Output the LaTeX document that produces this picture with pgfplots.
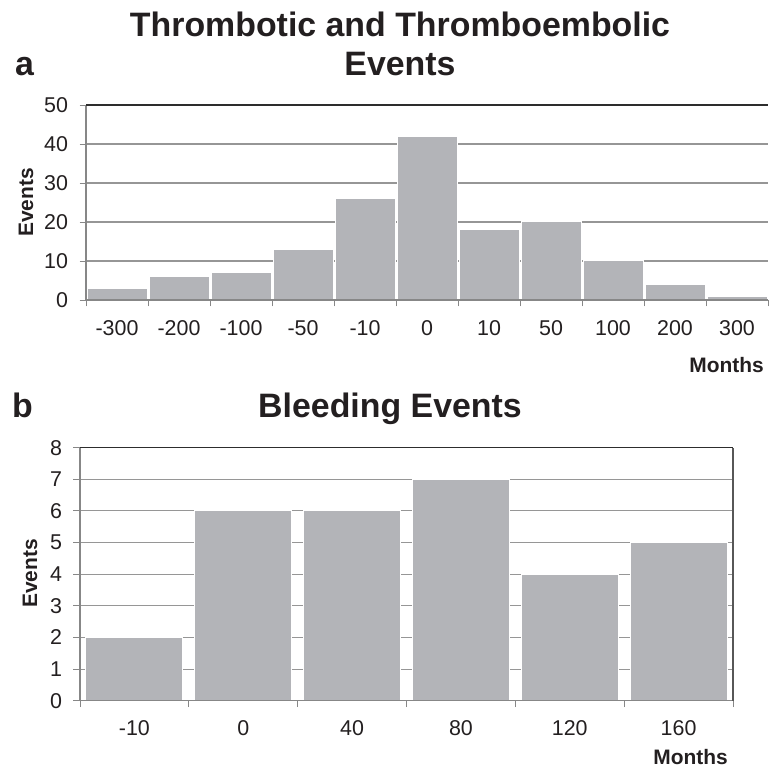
\documentclass[border=0pt]{standalone}
\usepackage{pgfplots}
\pgfplotsset{compat=1.18}
\usepackage{fontspec}
\setmainfont{Liberation Sans}
\definecolor{barc}{RGB}{179,180,184}
\definecolor{gridc}{RGB}{150,150,150}
\definecolor{axc}{RGB}{135,135,135}
\definecolor{darkc}{RGB}{45,45,45}
\definecolor{txt}{RGB}{35,31,32}
\pgfplotstableread{
x y
0 3
1 6
2 7
3 13
4 26
5 42
6 18
7 20
8 10
9 4
10 1
}\thromb
\pgfplotstableread{
x y
0 2
1 6
2 6
3 7
4 4
5 5
}\bleed
\begin{document}
\begin{tikzpicture}[x=1bp,y=1bp]
\path (0,0) rectangle (769,769);
\pgfplotsset{
  myax/.style={
    anchor=south west, scale only axis,
    axis line style={draw=none},
    ymajorgrids, grid style={gridc, line width=1.1bp},
    tick align=outside, major tick length=6.5bp,
    tick style={axc, line width=0.9bp},
    x tick label as interval,
    ticklabel style={font=\fontsize{21.5}{25}\selectfont, text=txt},
    /pgf/number format/assume math mode=true,
    ytick pos=left, xtick pos=bottom,
    ymin=0,
    clip=false,
  }
}
% ---------- panel a ----------
\begin{axis}[myax,
  at={(86bp,469bp)}, width=682bp, height=195bp,
  xmin=-0.5, xmax=10.5, ymax=50,
  ytick={0,10,20,30,40,50},
  xtick={-0.5,0.5,1.5,2.5,3.5,4.5,5.5,6.5,7.5,8.5,9.5,10.5},
  xticklabels={-300,-200,-100,-50,-10,0,10,50,100,200,300},
  xticklabel style={yshift=-11bp},
  yticklabel style={xshift=-8bp},
]
\addplot[ybar, bar width=60bp, fill=barc, draw=white, line width=1bp] table[x=x,y=y]{\thromb};
\draw[axc, line width=1.1bp] (rel axis cs:0,0) -- (rel axis cs:0,1);
\draw[axc, line width=1.4bp] (rel axis cs:0,0) -- (rel axis cs:1,0);
\draw[darkc, line width=1.3bp] (rel axis cs:0,1) -- (rel axis cs:1,1);
\end{axis}
% ---------- panel b ----------
\begin{axis}[myax,
  at={(80bp,68.3bp)}, width=653bp, height=253bp,
  xmin=-0.5, xmax=5.5, ymax=8,
  ytick={0,1,2,3,4,5,6,7,8},
  xtick={-0.5,0.5,1.5,2.5,3.5,4.5,5.5},
  xticklabels={-10,0,40,80,120,160},
  xticklabel style={yshift=-10bp},
  yticklabel style={xshift=-8bp},
]
\addplot[ybar, bar width=97bp, fill=barc, draw=white, line width=1bp] table[x=x,y=y]{\bleed};
\draw[axc, line width=1.1bp] (rel axis cs:0,0) -- (rel axis cs:0,1);
\draw[axc, line width=1.4bp] (rel axis cs:0,0) -- (rel axis cs:1,0);
\draw[darkc, line width=1.3bp] (rel axis cs:0,1) -- (rel axis cs:1,1);
\draw[darkc!80, line width=1.1bp] (rel axis cs:1,0) -- (rel axis cs:1,1);
\end{axis}
% ---------- texts ----------
\begin{scope}[every node/.style={inner sep=0pt, text=txt}]
\node[anchor=base] at (400,732) {\fontsize{34}{40}\selectfont\bfseries Thrombotic and Thromboembolic};
\node[anchor=base] at (400,693) {\fontsize{34}{40}\selectfont\bfseries Events};
\node[anchor=base west] at (15,693) {\fontsize{34}{40}\selectfont\bfseries a};
\node[anchor=base west] at (12,351) {\fontsize{34}{40}\selectfont\bfseries b};
\node[anchor=base] at (390,351) {\fontsize{34}{40}\selectfont\bfseries Bleeding Events};
\node[anchor=base east] at (764,396) {\fontsize{21}{24}\selectfont\bfseries Months};
\node[anchor=base east] at (728,4) {\fontsize{21}{24}\selectfont\bfseries Months};
\node[rotate=90] at (26,566.5) {\fontsize{21}{24}\selectfont\bfseries Events};
\node[rotate=90] at (30,195.5) {\fontsize{21}{24}\selectfont\bfseries Events};
\end{scope}
\end{tikzpicture}
\end{document}
